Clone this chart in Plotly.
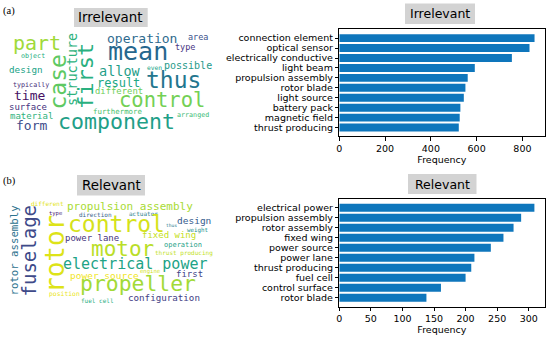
import plotly.graph_objects as go

W, H = 550, 339

# ---------------- data ----------------
irr_terms = ["connection element", "optical sensor", "electrically conductive", "light beam",
             "propulsion assembly", "rotor blade", "light source", "battery pack",
             "magnetic field", "thrust producing"]
irr_freq = [853, 831, 754, 592, 561, 551, 544, 529, 526, 522]

rel_terms = ["electrical power", "propulsion assembly", "rotor assembly", "fixed wing",
             "power source", "power lane", "thrust producing", "fuel cell",
             "control surface", "rotor blade"]
rel_freq = [309, 288, 276, 260, 240, 214, 209, 200, 161, 138]

irr_words = ["part", "operation", "area", "mean", "type", "object", "design", "case",
             "structure", "first", "allow", "even", "possible", "thus", "result",
             "different", "typically", "time", "control", "surface", "furthermore",
             "material", "component", "arranged", "form"]
rel_words = ["different", "propulsion assembly", "type", "direction", "actuator", "control",
             "design", "thus", "weight", "rotor", "fuselage", "rotor assembly", "power lane",
             "fixed wing", "operation", "thrust producing", "motor", "electrical power",
             "power source", "engine", "first", "propeller", "position", "fuel cell",
             "configuration"]

# ---------------- word cloud layout (x px, y px, font px, angle, colour) ----------------
irr_layout = [
    (36.5, 43, 20, 0, "#a0da39"),
    (142, 38, 13, 0, "#2f6b8e"),
    (198, 37, 8.5, 0, "#3b528b"),
    (137.5, 52, 25, 0, "#26678e"),
    (184.5, 46.5, 8.5, 0, "#4a3584"),
    (33, 55.5, 6.7, 0, "#29af7f"),
    (26, 69, 9.3, 0, "#20a386"),
    (57.5, 82, 23, -90, "#5ec962"),
    (72, 70, 13.5, -90, "#2db27d"),
    (85, 76, 22, -90, "#2ab07f"),
    (119.5, 71, 13.5, 0, "#1f9e89"),
    (154.5, 67.5, 6.3, 0, "#21a585"),
    (188, 66, 10, 0, "#1f9a8a"),
    (173.5, 80, 23, 0, "#23768e"),
    (118.5, 82.5, 12, 0, "#22a884"),
    (119, 91, 8.9, 0, "#6ece58"),
    (31, 84.5, 6.7, 0, "#472c7a"),
    (29.5, 95, 13, 0, "#471164"),
    (161.5, 100, 20.5, 0, "#73d055"),
    (28, 107, 9, 0, "#46337e"),
    (117.5, 111.5, 7.4, 0, "#4ac16d"),
    (31, 116, 9, 0, "#2db27d"),
    (116.5, 121, 21.6, 0, "#1fa088"),
    (193, 115, 6.7, 0, "#3bbb75"),
    (31.5, 125, 13, 0, "#3e4c8a"),
]
rel_layout = [
    (47.5, 203, 6, 0, "#e2e418"),
    (130, 206, 11, 0, "#a8db34"),
    (55.5, 213.5, 5.5, 0, "#482475"),
    (95.5, 215, 6, 0, "#33638d"),
    (143, 213.5, 6, 0, "#2a818e"),
    (116.5, 224, 23, 0, "#d5e21a"),
    (193.5, 220.5, 9.5, 0, "#365c8d"),
    (171.5, 225.5, 4.6, 0, "#2a788e"),
    (197.5, 230, 5.8, 0, "#21918c"),
    (55, 254, 26, -90, "#dde318"),
    (28.5, 251, 19, -90, "#3e4a89"),
    (13.5, 250, 10.7, -90, "#2c728e"),
    (91.5, 237.5, 9, 0, "#46337e"),
    (168.5, 234.5, 9, 0, "#c5e021"),
    (183, 244.5, 7, 0, "#1fa187"),
    (183.5, 252.5, 6, 0, "#c2df23"),
    (122.5, 249, 21, 0, "#bade28"),
    (135, 264, 15, 0, "#20a386"),
    (104.5, 275, 9.5, 0, "#f1e51d"),
    (150, 271.5, 5.6, 0, "#d2e21b"),
    (189.5, 273.5, 9, 0, "#414487"),
    (137.5, 283, 21.4, 0, "#a2da37"),
    (64.5, 294, 6.4, 0, "#eae51a"),
    (97, 300, 6, 0, "#27ad81"),
    (164, 297, 9.2, 0, "#433e85"),
]

BAR = "#0e76bc"


def px(x):
    return x / W


def py(y):
    return 1 - y / H


fig = go.Figure()
fig.add_trace(go.Bar(x=irr_freq, y=irr_terms, orientation="h", marker_color=BAR,
                     marker_line_width=0, xaxis="x", yaxis="y", showlegend=False))
fig.add_trace(go.Bar(x=rel_freq, y=rel_terms, orientation="h", marker_color=BAR,
                     marker_line_width=0, xaxis="x2", yaxis="y2", showlegend=False))

axis_common = dict(showline=True, mirror=True, linecolor="black", linewidth=0.9,
                   ticks="outside", ticklen=3.5, tickwidth=0.9, tickcolor="black",
                   showgrid=False, zeroline=False, automargin=False,
                   tickfont=dict(family="DejaVu Sans", size=9.5, color="black"))
title_font = dict(family="DejaVu Sans", size=9.5, color="black")

xd = [px(339.3), px(544.5)]
fig.update_layout(
    width=W, height=H, margin=dict(l=0, r=0, t=0, b=0, autoexpand=False),
    paper_bgcolor="white", plot_bgcolor="white", bargap=0.2,
    xaxis=dict(domain=xd, range=[0, 896.5], tickmode="array",
               tickvals=[0, 200, 400, 600, 800], anchor="y",
               title=dict(text="Frequency", standoff=2, font=title_font), **axis_common),
    yaxis=dict(domain=[py(136.4), py(29.3)], range=[9.89, -0.89], anchor="x",
               type="category", tickmode="array", tickvals=irr_terms, ticktext=irr_terms,
               **axis_common),
    xaxis2=dict(domain=xd, range=[0, 325], tickmode="array",
                tickvals=[0, 50, 100, 150, 200, 250, 300], anchor="y2",
                title=dict(text="Frequency", standoff=2, font=title_font), **axis_common),
    yaxis2=dict(domain=[py(306.6), py(198.8)], range=[9.89, -0.89], anchor="x2",
                type="category", tickmode="array", tickvals=rel_terms, ticktext=rel_terms,
                **axis_common),
)

shapes = []
annotations = []

# title boxes
boxes = [
    (405, 475, 3.5, 24, "Irrelevant", 12.5),
    (408, 476.5, 174, 194, "Relevant", 12.5),
    (74, 147.7, 8, 27, "Irrelevant", 13.4),
    (77, 145, 175, 195.5, "Relevant", 13.4),
]
for x0, x1, y0, y1, t, fs in boxes:
    shapes.append(dict(type="rect", xref="paper", yref="paper",
                       x0=px(x0), x1=px(x1), y0=py(y1), y1=py(y0),
                       fillcolor="#d3d3d3", line=dict(width=0), layer="below"))
    annotations.append(dict(text=t, xref="paper", yref="paper",
                            x=px((x0 + x1) / 2), y=py((y0 + y1) / 2),
                            xanchor="center", yanchor="middle", showarrow=False,
                            font=dict(family="DejaVu Sans", size=fs, color="black")))

# panel labels
for t, yy in [("(a)", 11), ("(b)", 181)]:
    annotations.append(dict(text=t, xref="paper", yref="paper", x=px(9), y=py(yy),
                            xanchor="center", yanchor="middle", showarrow=False,
                            font=dict(family="Liberation Serif", size=10.5, color="black")))

# word clouds
for words, lay in [(irr_words, irr_layout), (rel_words, rel_layout)]:
    for w, (x, y, fs, ang, col) in zip(words, lay):
        annotations.append(dict(text=w, xref="paper", yref="paper", x=px(x), y=py(y),
                                xanchor="center", yanchor="middle", showarrow=False,
                                textangle=ang,
                                font=dict(family="DejaVu Sans Mono", size=fs, color=col)))

fig.update_layout(shapes=shapes, annotations=annotations)
fig.write_html("out.html", config={"displayModeBar": False},
               post_script="document.body.style.margin='0';document.body.style.overflow='hidden';")
